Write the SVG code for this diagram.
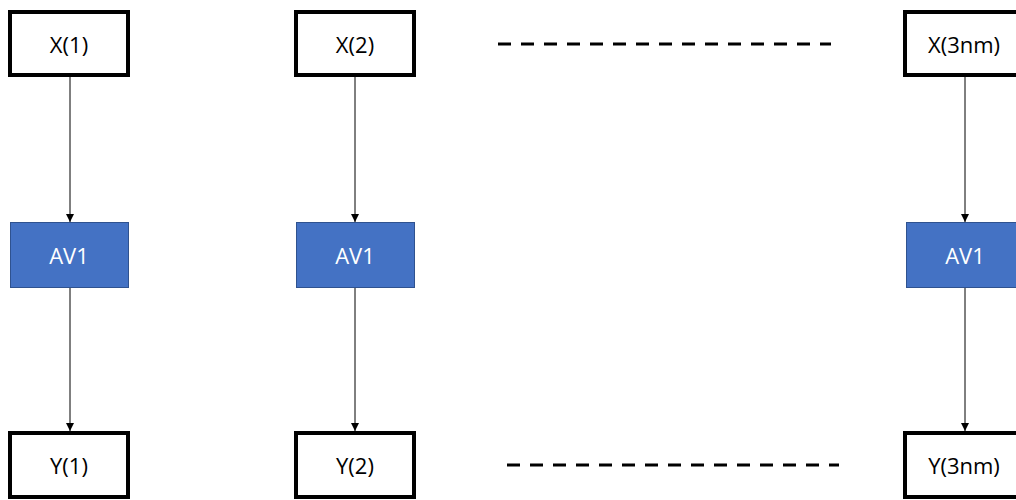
<svg xmlns="http://www.w3.org/2000/svg" width="1016" height="500" viewBox="0 0 1016 500">
<style>
.io{fill:#fff;stroke:#000;stroke-width:4}
.av{fill:#4472C4;stroke:#2F528F;stroke-width:1}
.t{font-family:"Open Sans","Liberation Sans",sans-serif;font-size:22px;text-anchor:middle;dominant-baseline:central}
.tw{fill:#fff}
.c{stroke:#000;stroke-width:1;fill:none;marker-end:url(#ah)}
.d{stroke:#000;stroke-width:3;stroke-dasharray:13 10}
</style>
<defs>
<marker id="ah" viewBox="0 0 10 10" refX="10" refY="5" markerWidth="8" markerHeight="8" markerUnits="userSpaceOnUse" orient="auto">
<path d="M0,0 L10,5 L0,10 z" fill="#000"/>
</marker>
</defs>
<g id="connectors">
<line class="c" x1="70" y1="77" x2="70" y2="222"/>
<line class="c" x1="70" y1="288" x2="70" y2="431"/>
<line class="c" x1="355" y1="77" x2="355" y2="222"/>
<line class="c" x1="355" y1="288" x2="355" y2="431"/>
<line class="c" x1="965" y1="77" x2="965" y2="222"/>
<line class="c" x1="965" y1="288" x2="965" y2="431"/>
<line class="d" x1="498" y1="44" x2="831" y2="44"/>
<line class="d" x1="507" y1="465" x2="839" y2="465"/>
</g>
<g id="x1"><rect class="io" x="10" y="12" width="118" height="63"/><text class="t" x="69" y="44">X(1)</text></g>
<g id="x2"><rect class="io" x="296" y="12" width="118" height="63"/><text class="t" x="355" y="44">X(2)</text></g>
<g id="x3"><rect class="io" x="905" y="12" width="118" height="63"/><text class="t" x="964" y="44">X(3nm)</text></g>
<g id="a1"><rect class="av" x="10.5" y="222.5" width="118" height="65"/><text class="t tw" x="69" y="255">AV1</text></g>
<g id="a2"><rect class="av" x="296.5" y="222.5" width="118" height="65"/><text class="t tw" x="355" y="255">AV1</text></g>
<g id="a3"><rect class="av" x="906.5" y="222.5" width="118" height="65"/><text class="t tw" x="965" y="255">AV1</text></g>
<g id="y1"><rect class="io" x="10" y="433" width="118" height="64"/><text class="t" x="69" y="465">Y(1)</text></g>
<g id="y2"><rect class="io" x="296" y="433" width="118" height="64"/><text class="t" x="355" y="465">Y(2)</text></g>
<g id="y3"><rect class="io" x="905" y="433" width="118" height="64"/><text class="t" x="964" y="465">Y(3nm)</text></g>
</svg>
